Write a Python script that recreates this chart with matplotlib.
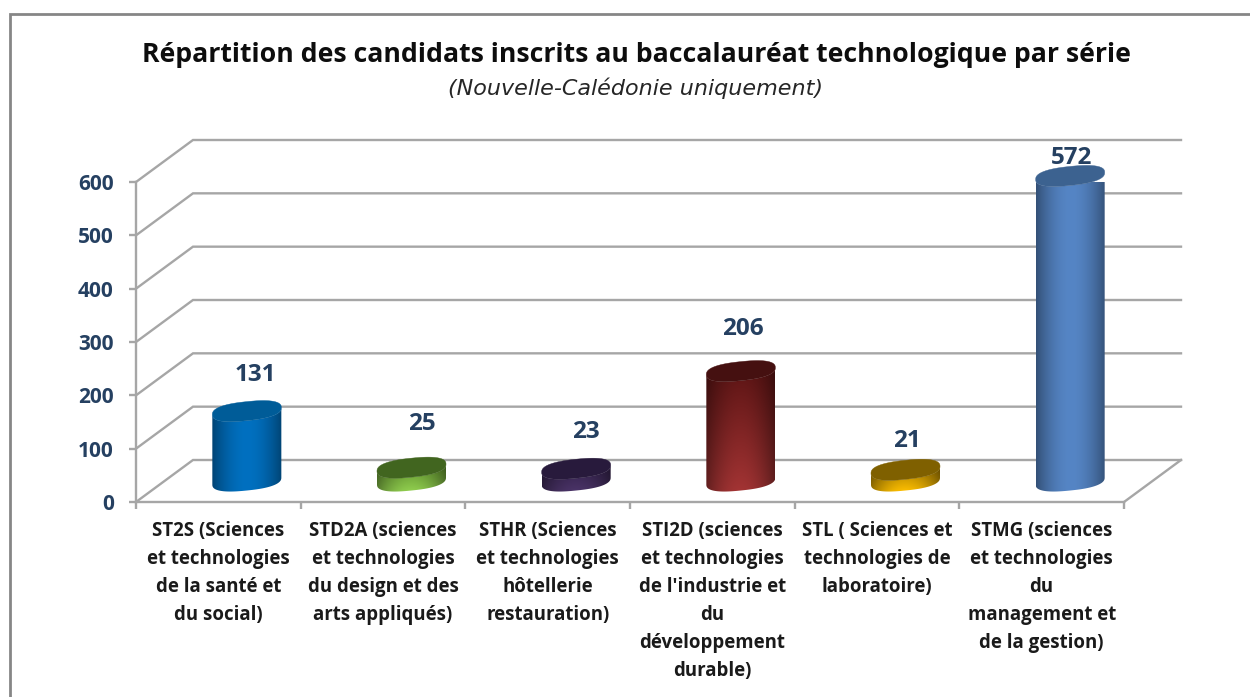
import numpy as np
import matplotlib
matplotlib.use("Agg")
import matplotlib.pyplot as plt
from matplotlib.colors import to_rgb
from matplotlib.patches import Polygon, Rectangle

categories = [
    "ST2S (Sciences\net technologies\nde la santé et\ndu social)",
    "STD2A (sciences\net technologies\ndu design et des\narts appliqués)",
    "STHR (Sciences\net technologies\nhôtellerie\nrestauration)",
    "STI2D (sciences\net technologies\nde l'industrie et\ndu\ndéveloppement\ndurable)",
    "STL ( Sciences et\ntechnologies de\nlaboratoire)",
    "STMG (sciences\net technologies\ndu\nmanagement et\nde la gestion)",
]
values = [131, 25, 23, 206, 21, 572]
value_ticks = [0, 100, 200, 300, 400, 500, 600]

col_bottom = ["#0070C0", "#92D050", "#4B3468", "#A33434", "#FFC000", "#5585C5"]
col_upper = ["#0070C0", "#5E8F2C", "#33214A", "#5C1414", "#A67C00", "#5585C5"]
col_top = ["#005C98", "#41651F", "#281A3C", "#451010", "#7F6000", "#3C6290"]
label_shift = [(9, 36), (10, 44), (10, 37), (2, 42), (1, 29), (1, 18)]

W, H = 1250, 697
AX_L, AX_R, AX_T, AX_B = 136, 1124, 182, 502
DEPTH_X, DEPTH_Y = 57, 42
WALL = "#A6A6A6"
TEXT = "#254061"
plt.rcParams["font.family"] = ["Open Sans", "DejaVu Sans"]

fig = plt.figure(figsize=(W / 100, H / 100), dpi=100)
fig.add_artist(Rectangle((9.5 / W, -0.02), 1.05, 1.02 - 13.5 / H,
                         transform=fig.transFigure, fill=False, ec="#868686", lw=2))
ax = fig.add_axes([AX_L / W, 1 - AX_B / H, (AX_R - AX_L) / W, (AX_B - AX_T) / H])
ax.patch.set_alpha(0)

ux = (AX_R - AX_L) / len(values)      # pixels per category
uy = (AX_B - AX_T) / value_ticks[-1]  # pixels per value unit
ddx, ddy = DEPTH_X / ux, DEPTH_Y / uy

# walls and floor
for v in value_ticks:
    ax.plot([0, ddx, len(values) + ddx], [v, v + ddy, v + ddy], color=WALL, lw=1.7,
            clip_on=False, zorder=1, solid_joinstyle="miter")
ax.plot([len(values), len(values) + ddx], [0, ddy], color=WALL, lw=1.7, clip_on=False, zorder=1)

for s in ("top", "right"):
    ax.spines[s].set_visible(False)
for s in ("left", "bottom"):
    ax.spines[s].set_color(WALL)
    ax.spines[s].set_linewidth(1.7)

# cylinders: rounded, slightly tilted footprint
HALF_W, HALF_H, TILT, ROUND = 34.5 / ux, 9.5 / uy, 3.5 / uy, 0.8


def foot(cx, cy, t):
    c, s = np.cos(t), np.sin(t)
    px = np.sign(c) * np.abs(c) ** ROUND
    py = np.sign(s) * np.abs(s) ** ROUND
    return cx + px * HALF_W, cy + py * HALF_H + px * TILT


for i, v in enumerate(values):
    cx = i + 0.5 + 0.5 * ddx
    cy = 0.5 * ddy
    ts = np.linspace(-np.pi, 0, 120)
    fx, fy = foot(cx, cy, ts)
    outline = np.vstack([np.column_stack([fx, fy]), np.column_stack([fx[::-1], fy[::-1] + v])])
    bottom, upper = np.array(to_rgb(col_bottom[i])), np.array(to_rgb(col_upper[i]))
    u = np.linspace(0, 1, 120)
    w = np.linspace(0, 1, 120)[:, None, None]  # image rows run from the top of the bar downwards
    shade = 0.60 + 0.40 * np.sin(np.pi * u) ** 0.9
    img = upper[None, None, :] + (bottom - upper)[None, None, :] * w
    img = np.clip(np.repeat(img, u.size, axis=1) * shade[None, :, None], 0, 1)
    clip = Polygon(outline, closed=True, transform=ax.transData, fc="none", ec="none")
    ax.add_patch(clip)
    im = ax.imshow(img, extent=(outline[:, 0].min(), outline[:, 0].max(),
                                outline[:, 1].min(), outline[:, 1].max()),
                   aspect="auto", interpolation="bilinear", zorder=3)
    im.set_clip_path(clip)
    tt = np.linspace(0, 2 * np.pi, 200)
    tx, ty = foot(cx, cy + v, tt)
    ax.add_patch(Polygon(np.column_stack([tx, ty]), closed=True, fc=col_top[i], ec=col_top[i], lw=0.3,
                         zorder=4, clip_on=False))
    ax.annotate(str(v), xy=(cx, cy + v), xytext=(label_shift[i][0] * 0.72, label_shift[i][1] * 0.72),
                textcoords="offset points", ha="center", va="center", fontweight="bold",
                fontsize=17.5, color=TEXT, zorder=5, annotation_clip=False)

ax.set_xlim(0, len(values))
ax.set_ylim(0, value_ticks[-1])
ax.set_yticks(value_ticks)
ax.set_yticklabels([str(v) for v in value_ticks], fontweight="bold", fontsize=15, color=TEXT)
ax.tick_params(axis="y", color=WALL, width=1.7, length=5, pad=11)
ax.set_xticks(range(len(values) + 1))
ax.set_xticklabels([])
ax.set_xticks(np.arange(len(values)) + 0.5, minor=True)
ax.set_xticklabels(categories, minor=True, fontweight="bold", fontsize=13.4, color="#1A1A1A",
                   linespacing=1.53, va="top", ha="center")
ax.tick_params(axis="x", which="major", color=WALL, width=1.7, length=5)
ax.tick_params(axis="x", which="minor", length=0, pad=14)

fig.text(636 / W, 1 - 55 / H, "Répartition des candidats inscrits au baccalauréat technologique par série",
         ha="center", va="center", fontweight="bold", fontsize=19.2, color="#0D0D0D")
fig.text(636 / W, 1 - 88 / H, "(Nouvelle-Calédonie uniquement)", ha="center", va="center",
         style="italic", fontsize=16, color="#262626", family=["DejaVu Sans"])

fig.savefig("out.png", dpi=100)
